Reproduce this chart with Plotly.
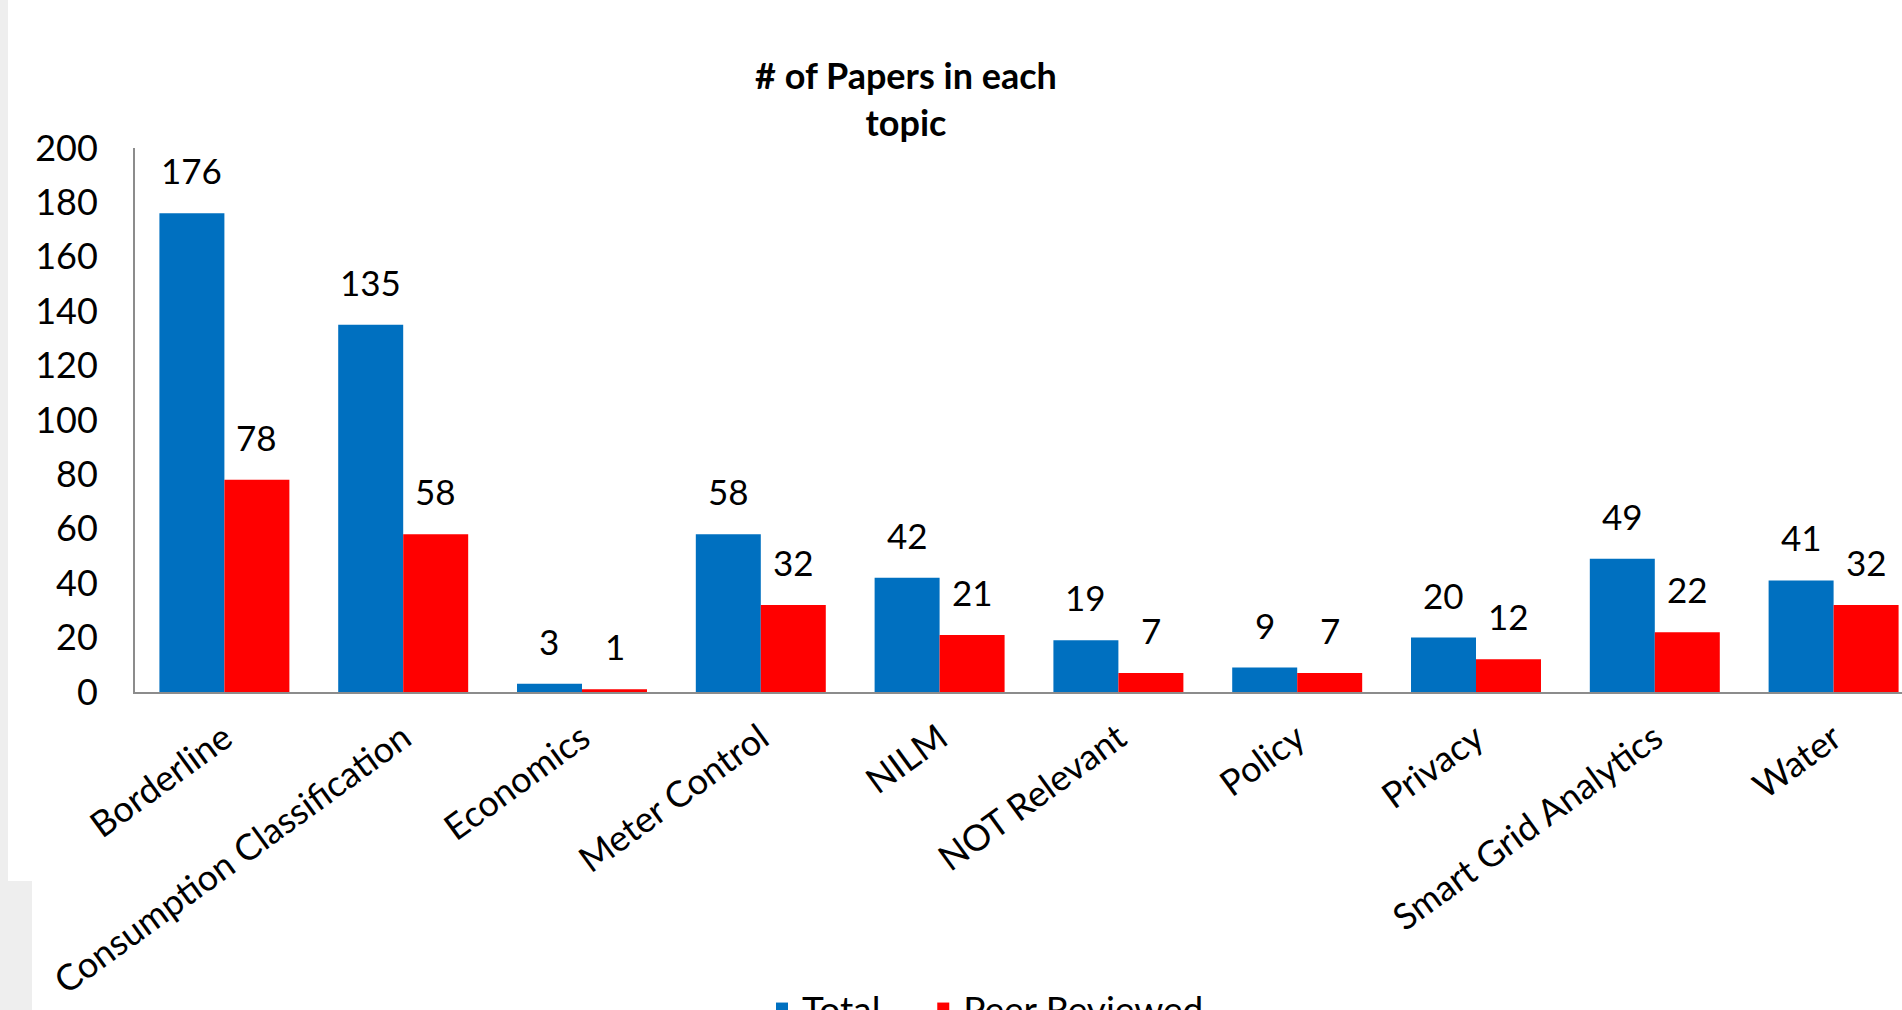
import plotly.graph_objects as go

categories = ["Borderline", "Consumption Classification", "Economics", "Meter Control",
              "NILM", "NOT Relevant", "Policy", "Privacy", "Smart Grid Analytics", "Water"]
total = [176, 135, 3, 58, 42, 19, 9, 20, 49, 41]
peer_reviewed = [78, 58, 1, 32, 21, 7, 7, 12, 22, 32]
y_ticks = [0, 20, 40, 60, 80, 100, 120, 140, 160, 180, 200]

W, H = 1902, 1010
L, T, B = 135, 148, 318
plot_w = W - L
plot_h = H - T - B
cat_px = 178.8
x_max = -0.5 + plot_w / cat_px

FONT = "Lato"
BLUE = "#0070C0"
RED = "#FF0000"
AXIS = "#8c8c8c"

xs = list(range(len(categories)))
bar_off = 0.1818  # half bar width in category units

fig = go.Figure()
fig.add_trace(go.Bar(x=xs, y=total, name="Total&nbsp;&nbsp;&nbsp;&nbsp;", marker_color=BLUE, marker_line_width=0))
fig.add_trace(go.Bar(x=xs, y=peer_reviewed, name="Peer Reviewed", marker_color=RED, marker_line_width=0))

annotations = []
for i, v in enumerate(total):
    annotations.append(dict(x=i - bar_off, y=v, text=str(v), showarrow=False, xref="x", yref="y",
                            yanchor="middle", yshift=43, font=dict(family=FONT, size=35, color="#000")))
for i, v in enumerate(peer_reviewed):
    annotations.append(dict(x=i + bar_off, y=v, text=str(v), showarrow=False, xref="x", yref="y",
                            yanchor="middle", yshift=43, font=dict(family=FONT, size=35, color="#000")))

def px_x(p):
    return (p - L) / plot_w

def px_y(p):
    return (H - B - p) / plot_h

shapes = [
    dict(type="rect", xref="paper", yref="paper", x0=px_x(0), x1=px_x(8), y0=px_y(0), y1=px_y(881),
         fillcolor="#eeeeee", line_width=0, layer="below"),
    dict(type="rect", xref="paper", yref="paper", x0=px_x(0), x1=px_x(32), y0=px_y(881), y1=px_y(1010),
         fillcolor="#eeeeee", line_width=0, layer="below"),
]

fig.update_layout(
    width=W, height=H,
    margin=dict(l=L, r=0, t=T, b=B, autoexpand=False),
    paper_bgcolor="white", plot_bgcolor="white",
    barmode="group", bargap=0.273, bargroupgap=0,
    title=dict(text="<b># of Papers in each<br>topic</b>", xref="container", yref="container",
               x=906 / W, xanchor="center", y=1 - 89 / H, yanchor="middle",
               font=dict(family=FONT, size=36, color="#000")),
    font=dict(family=FONT, size=35, color="#000"),
    xaxis=dict(tickmode="array", tickvals=xs, ticktext=categories, tickangle=-36,
               range=[-0.5, x_max], showline=True, linecolor=AXIS, linewidth=2,
               showgrid=False, zeroline=False, ticks="", ticklabelstandoff=9,
               tickfont=dict(family=FONT, size=36, color="#000")),
    yaxis=dict(range=[0, 200], tickvals=y_ticks, showline=True, linecolor=AXIS, linewidth=2,
               showgrid=False, zeroline=False, ticks="", ticklabelstandoff=28,
               tickfont=dict(family=FONT, size=36, color="#000")),
    legend=dict(orientation="h", x=px_x(762), xanchor="left", y=px_y(978), yanchor="top",
                font=dict(family=FONT, size=37, color="#000"), bgcolor="rgba(0,0,0,0)",
                itemclick=False),
    annotations=annotations,
    shapes=shapes,
    showlegend=True,
)

fig.write_html("out.html")
